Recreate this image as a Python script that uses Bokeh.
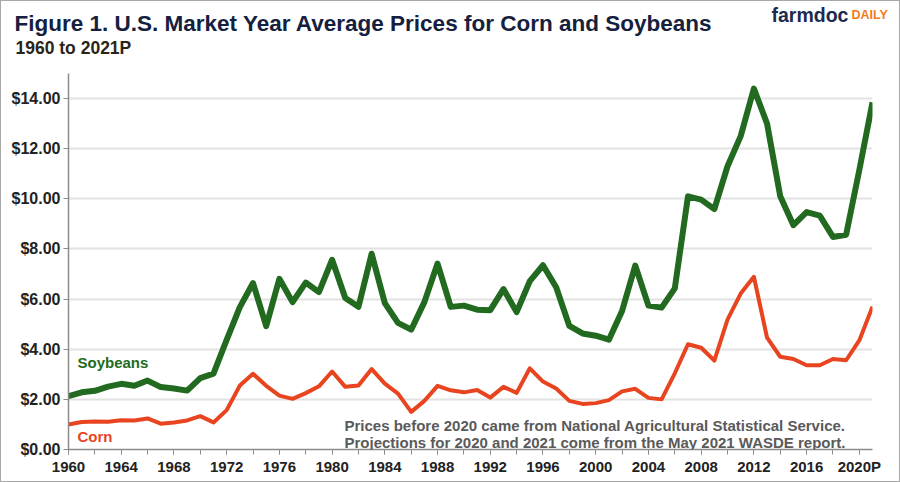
from bokeh.plotting import figure
from bokeh.layouts import column
from bokeh.models import Range1d, FixedTicker, NumeralTickFormatter, Label
from bokeh.embed import file_html
from bokeh.resources import INLINE

# ---------------- data ----------------
years = list(range(1960, 2022))
corn = [1.00, 1.10, 1.12, 1.11, 1.17, 1.16, 1.24, 1.03, 1.08, 1.16,
        1.33, 1.08, 1.57, 2.55, 3.02, 2.54, 2.15, 2.02, 2.25, 2.52,
        3.11, 2.50, 2.55, 3.21, 2.63, 2.23, 1.50, 1.94, 2.54, 2.36,
        2.28, 2.37, 2.07, 2.50, 2.26, 3.24, 2.71, 2.43, 1.94, 1.82,
        1.85, 1.97, 2.32, 2.42, 2.06, 2.00, 3.04, 4.20, 4.06, 3.55,
        5.18, 6.22, 6.89, 4.46, 3.70, 3.61, 3.36, 3.36, 3.61, 3.56,
        4.35, 5.70]
soybeans = [2.13, 2.28, 2.34, 2.51, 2.62, 2.54, 2.75, 2.49, 2.43, 2.35,
            2.85, 3.03, 4.37, 5.68, 6.64, 4.92, 6.81, 5.88, 6.66, 6.28,
            7.57, 6.04, 5.69, 7.81, 5.84, 5.05, 4.78, 5.88, 7.42, 5.69,
            5.74, 5.58, 5.56, 6.40, 5.48, 6.72, 7.35, 6.47, 4.93, 4.63,
            4.54, 4.38, 5.53, 7.34, 5.74, 5.66, 6.43, 10.10, 9.97, 9.59,
            11.30, 12.50, 14.40, 13.00, 10.10, 8.95, 9.47, 9.33, 8.48, 8.57,
            11.15, 13.85]
x_major_ticks = list(range(1960, 2021, 4))
x_minor_ticks = list(range(1960, 2022, 2))
y_ticks = [0, 2, 4, 6, 8, 10, 12, 14]
x_label_overrides = {2020: "2020P"}

title_text = "Figure 1. U.S. Market Year Average Prices for Corn and Soybeans"
subtitle_text = "1960 to 2021P"
note_lines = ["Prices before 2020 came from National Agricultural Statistical Service.",
              "Projections for 2020 and 2021 come from the May 2021 WASDE report."]

# ---------------- layout ----------------
W = 898
HEAD_H = 60                      # header strip height (page y 1..61)
MAIN_H = 480 - HEAD_H            # main chart (page y 61..481)
X0, X1, Y0, Y1 = 1960, 2021, 0, 15
FL, FR, FT, FB = 68, 872, 73, 449   # frame edges (page px)
TOP = 1 + HEAD_H                 # page y of main figure's top

def dx(px):
    return X0 + (px - FL) * (X1 - X0) / (FR - FL)

def dy(py):
    return Y0 + (FB - py) * (Y1 - Y0) / (FB - FT)

FONT = "Liberation Sans"
GREEN = "#226a20"
RED = "#e8441f"
AXIS = "#8c8c8c"

# ---- header strip (title, subtitle, logo) ----
head = figure(width=W, height=HEAD_H, output_backend="svg", toolbar_location=None,
              x_range=Range1d(1, 1 + W), y_range=Range1d(1 + HEAD_H, 1),
              x_axis_type=None, y_axis_type=None,
              min_border=0, min_border_left=0, min_border_right=0,
              min_border_top=0, min_border_bottom=0)
head.frame_align = False
head.outline_line_color = None
head.grid.grid_line_color = None
head.background_fill_color = "white"
head.border_fill_color = "white"

def head_label(text, px, py, size, color, style="bold"):
    head.add_layout(Label(x=px, y=py, text=text, text_font=FONT,
                          text_font_size=size, text_font_style=style,
                          text_color=color, text_align="left",
                          text_baseline="alphabetic"))

head_label(title_text, 14, 23, "22.5px", "#14203e")
head_label(subtitle_text, 15, 47, "17.5px", "#2b2418")
head_label("farmdoc", 771, 14, "19.5px", "#1d2a4e")
head_label("DAILY", 851, 14, "12.5px", "#f47b20")

# ---- main chart ----
p = figure(width=W, height=MAIN_H, output_backend="svg", toolbar_location=None,
           x_range=Range1d(X0, X1), y_range=Range1d(Y0, Y1),
           min_border_left=FL - 1, min_border_right=899 - FR,
           min_border_top=FT - TOP, min_border_bottom=481 - FB)
p.outline_line_color = None
p.background_fill_color = "white"
p.border_fill_color = "white"

p.xgrid.grid_line_color = None
p.ygrid.grid_line_color = "#e2e2e2"
p.ygrid.grid_line_width = 2

p.xaxis.ticker = FixedTicker(ticks=x_major_ticks, minor_ticks=x_minor_ticks)
p.xaxis.major_label_overrides = x_label_overrides
p.yaxis.ticker = FixedTicker(ticks=y_ticks)
p.yaxis.formatter = NumeralTickFormatter(format="$0.00")

for ax in (p.xaxis, p.yaxis):
    ax.axis_line_color = AXIS
    ax.axis_line_width = 1.5
    ax.major_tick_line_color = AXIS
    ax.minor_tick_line_color = AXIS
    ax.major_tick_in = 0
    ax.minor_tick_in = 0
    ax.major_tick_out = 5
    ax.minor_tick_out = 5
    ax.major_label_text_font = FONT
    ax.major_label_text_font_style = "bold"
    ax.major_label_text_color = "#222222"
p.xaxis.major_label_text_font_size = "15px"
p.yaxis.major_label_text_font_size = "16px"
p.yaxis.minor_tick_line_color = None
p.yaxis.major_label_standoff = 3
p.xaxis.major_label_standoff = 3

p.line(years, soybeans, line_color=GREEN, line_width=6, line_join="round")
p.line(years, corn, line_color=RED, line_width=4, line_join="round")

def add_label(text, px, py, size, color, style="bold"):
    p.add_layout(Label(x=dx(px), y=dy(py), text=text, text_font=FONT,
                       text_font_size=size, text_font_style=style,
                       text_color=color, text_align="left",
                       text_baseline="alphabetic"))

add_label("Soybeans", 77, 362, "15px", GREEN)
add_label("Corn", 77, 436, "15px", RED)
add_label(note_lines[0], 344, 425, "15px", "#5a5a5a")
add_label(note_lines[1], 344, 442, "15px", "#5a5a5a")

layout = column(head, p, spacing=0, styles={"border": "1px solid #a8a8a8"})
open("out.html", "w").write(file_html(layout, INLINE))
